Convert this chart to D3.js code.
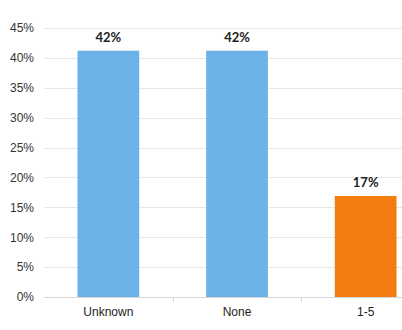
<html>
<head>
<meta charset="UTF-8">
<title>Bar chart</title>
<script src="https://d3js.org/d3.v7.min.js"></script>
<style>
  body { margin: 0; background: #fff; }
  svg { display: block; font-family: Lato, "Open Sans", sans-serif; }
</style>
</head>
<body>
<script type="text/javascript">
var categories = ["Unknown", "None", "1-5"];
var values = [41.2, 41.2, 16.9];
var valueLabels = ["42%", "42%", "17%"];
var barColors = ["#6cb4e8", "#6cb4e8", "#f57c10"];
var yTicks = [0, 5, 10, 15, 20, 25, 30, 35, 40, 45];

var width = 402;
var height = 330;

var svg = d3.select("body")
  .append("svg")
  .attr("width", width)
  .attr("height", height);

// plot runs past the right edge, like the cropped original
var x = d3.scaleBand()
  .domain(categories)
  .range([44, 430])
  .paddingInner(0.52)
  .paddingOuter(0.26);

var y = d3.scaleLinear()
  .domain([0, 45])
  .range([297, 28]);

// gridlines
svg.append("g")
  .selectAll("line")
  .data(yTicks)
  .enter()
  .append("line")
  .attr("x1", 44)
  .attr("x2", 430)
  .attr("y1", function(d){ return Math.round(y(d)) + 0.5; })
  .attr("y2", function(d){ return Math.round(y(d)) + 0.5; })
  .attr("stroke", function(d){ return d === 0 ? "#d6d6d6" : "#e6e6e6"; })
  .attr("stroke-width", 1.2);

// y axis labels
var yAxis = d3.axisLeft(y)
  .tickValues(yTicks)
  .tickSize(0)
  .tickPadding(10)
  .tickFormat(function(d){ return d + "%"; });

var gy = svg.append("g")
  .attr("transform", "translate(44,0)")
  .call(yAxis);
gy.select(".domain").remove();
gy.selectAll("text")
  .attr("fill", "#333")
  .style("font-size", "12px");

// bars
svg.selectAll("rect.bar")
  .data(values)
  .enter()
  .append("rect")
  .attr("class", "bar")
  .attr("x", function(d, i){ return x(categories[i]); })
  .attr("y", function(d){ return y(d); })
  .attr("width", x.bandwidth())
  .attr("height", function(d){ return y(0) - y(d); })
  .attr("fill", function(d, i){ return barColors[i]; });

// value labels
svg.selectAll("text.val")
  .data(values)
  .enter()
  .append("text")
  .attr("class", "val")
  .attr("x", function(d, i){ return x(categories[i]) + x.bandwidth() / 2; })
  .attr("y", function(d){ return y(d) - 9; })
  .attr("text-anchor", "middle")
  .attr("fill", "#222")
  .style("font-size", "13px")
  .style("font-weight", "bold")
  .text(function(d, i){ return valueLabels[i]; });

// x axis
var xAxis = d3.axisBottom(x)
  .tickSize(0)
  .tickPadding(10);

var gx = svg.append("g")
  .attr("transform", "translate(0,297)")
  .call(xAxis);
gx.select(".domain").remove();
gx.selectAll("text")
  .attr("fill", "#222")
  .style("font-size", "12px");

// small separators between categories
var step = x.step();
svg.append("g")
  .selectAll("line")
  .data(categories.slice(1))
  .enter()
  .append("line")
  .attr("x1", function(d){ return Math.round(x(d) - step * x.paddingInner() / 2) + 0.5; })
  .attr("x2", function(d){ return Math.round(x(d) - step * x.paddingInner() / 2) + 0.5; })
  .attr("y1", 297)
  .attr("y2", 302)
  .attr("stroke", "#d6d6d6");
</script>
</body>
</html>
